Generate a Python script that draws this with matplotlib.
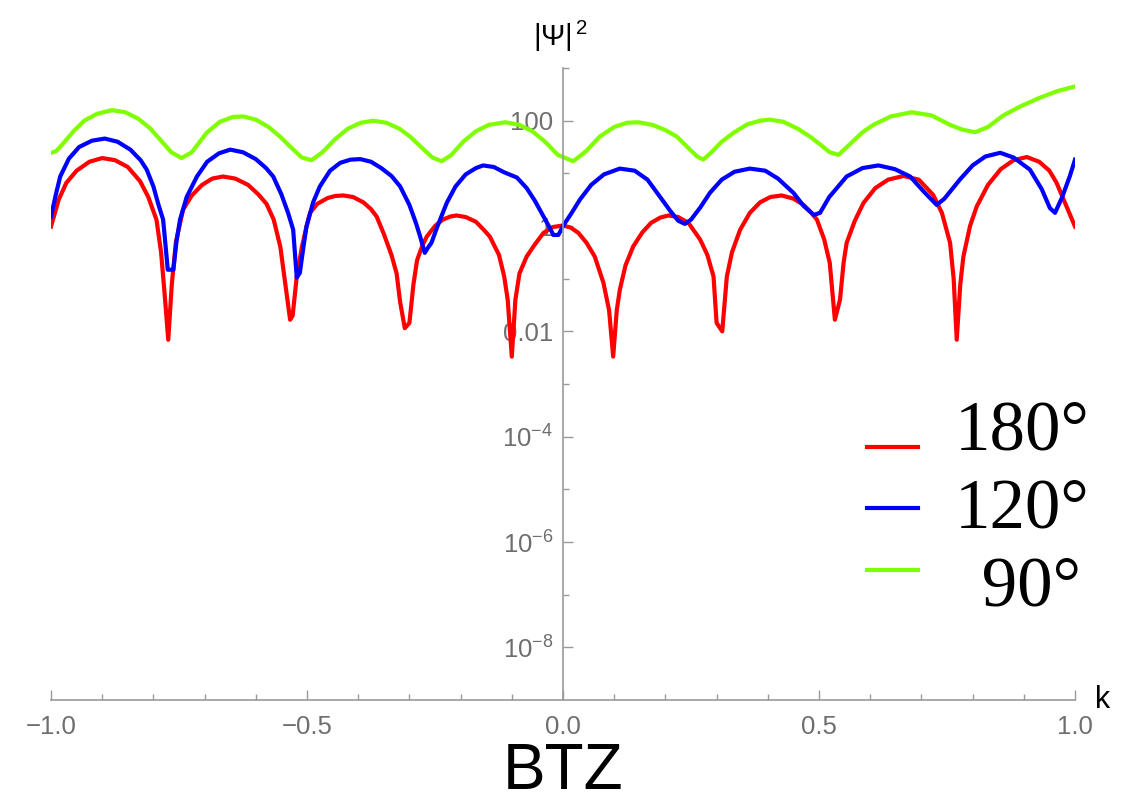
import numpy as np
import matplotlib
matplotlib.use("Agg")
import matplotlib.pyplot as plt
from matplotlib.lines import Line2D

plt.rcParams["font.family"] = ["Liberation Sans", "DejaVu Sans"]
plt.rcParams["mathtext.fontset"] = "custom"
plt.rcParams["mathtext.rm"] = "Liberation Sans"
plt.rcParams["mathtext.it"] = "Liberation Sans:italic"
plt.rcParams["mathtext.bf"] = "Liberation Sans:bold"

# |Psi|^2 versus k, stored as (k, log10 |Psi|^2) pairs
k_180 = [-1.000, -0.985, -0.970, -0.950, -0.925, -0.900, -0.875, -0.850, -0.826, -0.810,
         -0.794, -0.785, -0.778, -0.771, -0.764, -0.756, -0.742, -0.725, -0.705, -0.685,
         -0.664, -0.640, -0.615, -0.595, -0.579, -0.565, -0.552, -0.543, -0.533, -0.528,
         -0.520, -0.510, -0.501, -0.494, -0.480, -0.460, -0.445, -0.429, -0.410, -0.390,
         -0.375, -0.364, -0.350, -0.335, -0.325, -0.318, -0.309, -0.300, -0.292, -0.285,
         -0.275, -0.266, -0.250, -0.235, -0.220, -0.208, -0.190, -0.170, -0.155, -0.143,
         -0.125, -0.115, -0.108, -0.100, -0.093, -0.085, -0.071, -0.055, -0.038, -0.020,
         0.000, 0.015, 0.030, 0.046, 0.062, 0.079, 0.090, 0.098, 0.105, 0.111,
         0.122, 0.137, 0.155, 0.172, 0.190, 0.206, 0.225, 0.245, 0.268, 0.282,
         0.294, 0.300, 0.311, 0.320, 0.330, 0.346, 0.365, 0.385, 0.405, 0.427,
         0.450, 0.470, 0.485, 0.496, 0.510, 0.521, 0.531, 0.541, 0.548, 0.554,
         0.570, 0.587, 0.610, 0.635, 0.665, 0.695, 0.723, 0.740, 0.756, 0.763,
         0.769, 0.776, 0.782, 0.795, 0.808, 0.830, 0.855, 0.880, 0.906, 0.930,
         0.950, 0.964, 0.980, 1.000]
exp_180 = [-0.01, 0.50, 0.82, 1.05, 1.22, 1.29, 1.25, 1.12, 0.85, 0.55,
           0.12, -0.50, -1.30, -2.16, -1.10, -0.30, 0.31, 0.58, 0.78, 0.90,
           0.94, 0.90, 0.78, 0.60, 0.42, 0.12, -0.40, -1.05, -1.78, -1.70,
           -0.96, -0.40, -0.01, 0.25, 0.42, 0.53, 0.57, 0.58, 0.55, 0.45,
           0.32, 0.18, -0.15, -0.55, -0.90, -1.45, -1.94, -1.84, -1.10, -0.65,
           -0.38, -0.20, 0.00, 0.12, 0.18, 0.20, 0.17, 0.08, -0.07, -0.20,
           -0.55, -0.95, -1.40, -2.48, -1.40, -0.90, -0.58, -0.35, -0.13, -0.02,
           0.01, -0.03, -0.13, -0.32, -0.58, -1.08, -1.60, -2.48, -1.60, -1.21,
           -0.75, -0.39, -0.12, 0.06, 0.16, 0.20, 0.17, 0.06, -0.26, -0.55,
           -0.96, -1.84, -2.00, -0.96, -0.50, -0.07, 0.25, 0.45, 0.55, 0.58,
           0.52, 0.40, 0.25, 0.12, -0.25, -0.70, -1.78, -1.40, -0.70, -0.32,
           0.10, 0.44, 0.72, 0.88, 0.95, 0.88, 0.59, 0.25, -0.32, -1.00,
           -2.16, -1.10, -0.58, 0.00, 0.37, 0.78, 1.08, 1.25, 1.31, 1.22,
           1.05, 0.82, 0.45, -0.01]

k_120 = [-1.000, -0.990, -0.982, -0.965, -0.945, -0.920, -0.895, -0.870, -0.845, -0.825,
         -0.813, -0.800, -0.790, -0.781, -0.776, -0.772, -0.761, -0.755, -0.748, -0.735,
         -0.715, -0.695, -0.672, -0.650, -0.625, -0.600, -0.580, -0.566, -0.550, -0.537,
         -0.527, -0.520, -0.514, -0.507, -0.501, -0.488, -0.475, -0.455, -0.435, -0.415,
         -0.396, -0.375, -0.355, -0.335, -0.318, -0.300, -0.287, -0.279, -0.270, -0.263,
         -0.257, -0.245, -0.227, -0.210, -0.190, -0.170, -0.156, -0.135, -0.115, -0.090,
         -0.071, -0.055, -0.038, -0.025, -0.019, -0.009, 0.000, 0.015, 0.033, 0.055,
         0.080, 0.111, 0.140, 0.165, 0.189, 0.210, 0.225, 0.238, 0.250, 0.268,
         0.287, 0.310, 0.335, 0.365, 0.395, 0.420, 0.450, 0.470, 0.490, 0.502,
         0.520, 0.554, 0.585, 0.616, 0.648, 0.678, 0.705, 0.730, 0.745, 0.775,
         0.800, 0.825, 0.854, 0.880, 0.912, 0.935, 0.951, 0.961, 0.975, 0.990,
         1.000]
exp_120 = [0.18, 0.62, 0.94, 1.28, 1.50, 1.62, 1.66, 1.60, 1.45, 1.25,
           1.07, 0.75, 0.40, 0.12, -0.40, -0.83, -0.83, -0.30, 0.12, 0.55,
           0.94, 1.22, 1.38, 1.45, 1.40, 1.27, 1.10, 0.94, 0.60, 0.25,
           -0.07, -0.98, -0.89, -0.40, -0.01, 0.45, 0.75, 1.05, 1.20, 1.26,
           1.27, 1.22, 1.10, 0.95, 0.75, 0.40, 0.05, -0.20, -0.51, -0.40,
           -0.32, 0.00, 0.44, 0.75, 0.98, 1.10, 1.15, 1.12, 1.02, 0.92,
           0.72, 0.48, 0.18, -0.05, -0.17, -0.17, 0.00, 0.22, 0.50, 0.78,
           0.98, 1.09, 1.05, 0.88, 0.56, 0.28, 0.10, 0.04, 0.12, 0.35,
           0.63, 0.88, 1.03, 1.09, 1.05, 0.90, 0.63, 0.38, 0.21, 0.25,
           0.55, 0.94, 1.10, 1.15, 1.08, 0.94, 0.65, 0.40, 0.52, 0.88,
           1.15, 1.32, 1.39, 1.30, 1.07, 0.70, 0.34, 0.25, 0.55, 0.95,
           1.26]

k_90 = [-1.000, -0.990, -0.975, -0.956, -0.935, -0.910, -0.881, -0.855, -0.830, -0.807,
        -0.785, -0.765, -0.745, -0.725, -0.696, -0.670, -0.645, -0.624, -0.600, -0.575,
        -0.553, -0.530, -0.510, -0.491, -0.470, -0.445, -0.420, -0.395, -0.371, -0.345,
        -0.320, -0.299, -0.275, -0.255, -0.237, -0.218, -0.195, -0.170, -0.145, -0.113,
        -0.085, -0.060, -0.035, -0.010, 0.020, 0.045, 0.072, 0.100, 0.125, 0.147,
        0.175, 0.200, 0.222, 0.245, 0.262, 0.274, 0.290, 0.310, 0.333, 0.360,
        0.385, 0.404, 0.430, 0.458, 0.482, 0.502, 0.521, 0.538, 0.560, 0.585,
        0.606, 0.640, 0.681, 0.720, 0.756, 0.780, 0.805, 0.830, 0.860, 0.893,
        0.930, 0.965, 1.000]
exp_90 = [1.39, 1.42, 1.58, 1.80, 2.00, 2.13, 2.20, 2.16, 2.04, 1.86,
          1.62, 1.40, 1.29, 1.40, 1.77, 1.98, 2.07, 2.08, 2.02, 1.88,
          1.70, 1.48, 1.30, 1.25, 1.40, 1.65, 1.85, 1.96, 2.00, 1.96,
          1.85, 1.70, 1.48, 1.30, 1.23, 1.35, 1.60, 1.80, 1.92, 1.97,
          1.92, 1.80, 1.60, 1.35, 1.23, 1.42, 1.70, 1.88, 1.96, 1.97,
          1.92, 1.82, 1.70, 1.48, 1.32, 1.26, 1.40, 1.60, 1.77, 1.93,
          2.00, 2.02, 1.98, 1.85, 1.70, 1.55, 1.40, 1.35, 1.55, 1.78,
          1.92, 2.08, 2.16, 2.10, 1.92, 1.83, 1.78, 1.88, 2.10, 2.27,
          2.43, 2.56, 2.65]

series = [
    ("180°", k_180, exp_180, "#ff0000"),
    ("120°", k_120, exp_120, "#0000ff"),
    (" 90°", k_90, exp_90, "#7fff00"),
]

y_major = [1e-8, 1e-6, 1e-4, 1e-2, 1, 100]
y_major_labels = [r"$10^{-8}$", r"$10^{-6}$", r"$10^{-4}$", "0.01", "1", "100"]
y_minor = [1e-7, 1e-5, 1e-3, 1e-1, 10, 1000]
x_major = [-1.0, -0.5, 0.0, 0.5, 1.0]

axis_gray = "#999999"
label_gray = "#6e6e6e"

fig = plt.figure(figsize=(11.37, 8), dpi=100)
ax = fig.add_axes([51 / 1137, 0.125, 1024 / 1137, 0.79])

for name, k, e, color in series:
    ax.plot(k, 10.0 ** np.asarray(e), color=color, lw=3.0, solid_joinstyle="round")

ax.set_yscale("log")
ax.set_xlim(-1.0, 1.0)
ax.set_ylim(1e-9, 1e3)

# Mathematica-style axes: vertical axis through k = 0
ax.spines["left"].set_position(("data", 0.0))
ax.spines["top"].set_visible(False)
ax.spines["right"].set_visible(False)
for side in ("left", "bottom"):
    ax.spines[side].set_color(axis_gray)
    ax.spines[side].set_linewidth(1.2)

ax.set_xticks(x_major, [f"{v:.1f}".replace("-", "\u2212") for v in x_major])
ax.set_xticks(np.arange(-0.9, 1.0, 0.1), minor=True)
ax.set_yticks(y_major, y_major_labels)
ax.set_yticks(y_minor, minor=True)
ax.yaxis.set_minor_formatter(plt.NullFormatter())

ax.tick_params(axis="both", which="both", direction="in", color=axis_gray,
               labelcolor=label_gray, labelsize=18.5, width=1.0)
ax.tick_params(axis="both", which="major", length=7.5)
ax.tick_params(axis="both", which="minor", length=4.5)
ax.tick_params(axis="x", which="major", pad=11)
ax.tick_params(axis="y", which="major", pad=7)

fig.text(0.493, 0.942, "|Ψ|$^{\\,2}$", ha="center", va="baseline", fontsize=21, color="black")
fig.text(0.963, 0.125, "k", ha="left", va="center", fontsize=22, color="black")
fig.text(0.4952, 0.014, "BTZ", ha="center", va="baseline", fontsize=46, color="black")

# legend drawn by hand: short coloured bars with large serif labels
line_y = [0.44125, 0.365, 0.2875]
text_y = [0.4375, 0.34, 0.2425]
for (name, k, e, color), ly, ty in zip(series, line_y, text_y):
    fig.add_artist(Line2D([0.7625, 0.8074], [ly, ly], color=color, lw=3.0,
                          transform=fig.transFigure))
    fig.text(0.8989, ty, name, ha="center", va="baseline", fontsize=51,
             family=["Liberation Serif", "DejaVu Serif"], color="black")

fig.savefig("out.png", dpi=100)
